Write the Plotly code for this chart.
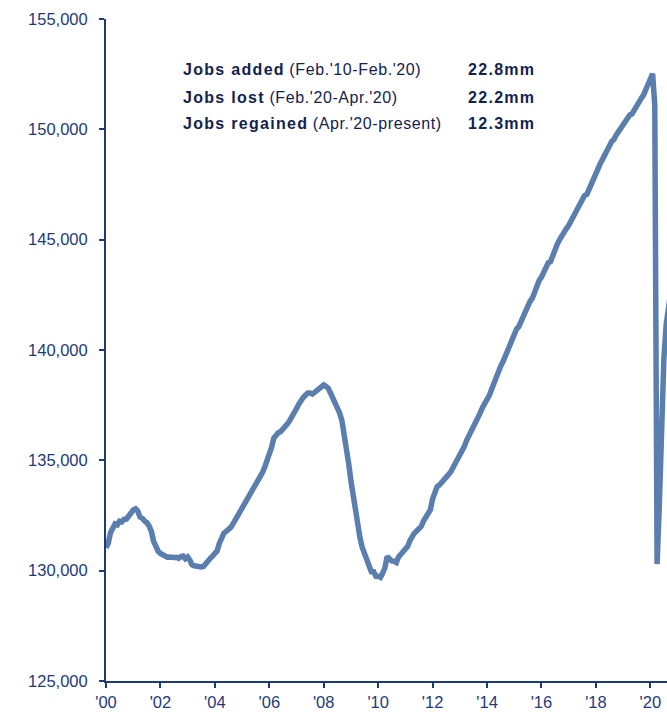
import pandas as pd
import plotly.graph_objects as go

# Total nonfarm payrolls, seasonally adjusted, thousands (monthly, Jan 2000 - Oct 2020)
p2000 = [131040, 131250, 131720, 131980, 132120, 132080, 132240, 132210, 132330, 132340, 132520, 132660]
p2001 = [132750, 132800, 132710, 132430, 132380, 132250, 132180, 132030, 131780, 131330, 131020, 130880]
p2002 = [130780, 130700, 130660, 130610, 130620, 130640, 130600, 130610, 130560, 130640, 130660, 130540]
p2003 = [130620, 130470, 130260, 130220, 130190, 130180, 130170, 130190, 130340, 130470, 130560, 130660]
p2004 = [130800, 130900, 131230, 131480, 131700, 131780, 131850, 131960, 132120, 132300, 132430, 132560]
p2005 = [132750, 132950, 133100, 133320, 133480, 133700, 133900, 134100, 134250, 134450, 134700, 134950]
p2006 = [135250, 135600, 136000, 136150, 136250, 136300, 136400, 136550, 136650, 136800, 136950, 137100]
p2007 = [137350, 137550, 137750, 137850, 137950, 138050, 138050, 138000, 138080, 138150, 138250, 138300]
p2008 = [138420, 138350, 138270, 138050, 137850, 137650, 137420, 137150, 136800, 136250, 135600, 134850]
p2009 = [134050, 133350, 132550, 131850, 131500, 131050, 130750, 130550, 130150, 129950, 129950, 129750]
p2010 = [129750, 129700, 129880, 130120, 130640, 130510, 130440, 130430, 130370, 130620, 130740, 130830]
p2011 = [130900, 131100, 131350, 131600, 131700, 131800, 131900, 132000, 132250, 132400, 132550, 132750]
p2012 = [133250, 133500, 133800, 133880, 133980, 134080, 134200, 134350, 134480, 134650, 134830, 135000]
p2013 = [135200, 135450, 135620, 135900, 136100, 136300, 136450, 136650, 136900, 137150, 137400, 137550]
p2014 = [137750, 137950, 138200, 138500, 138700, 139000, 139250, 139450, 139700, 139950, 140250, 140500]
p2015 = [140700, 140950, 141050, 141300, 141600, 141800, 142050, 142200, 142350, 142650, 142900, 143150]
p2016 = [143300, 143550, 143800, 143950, 144000, 144300, 144600, 144800, 145000, 145200, 145350, 145500]
p2017 = [145650, 145850, 146000, 146200, 146350, 146600, 146800, 147000, 147050, 147300, 147500, 147650]
p2018 = [147950, 148300, 148450, 148650, 148900, 149100, 149250, 149450, 149550, 149750, 149900, 150050]
p2019 = [150250, 150300, 150450, 150650, 150700, 150850, 151000, 151200, 151400, 151550, 151800, 151950]
p2020 = [152250, 152520, 151090, 130300, 133000, 137800, 139600, 141150, 141900, 142600]

payrolls = (p2000 + p2001 + p2002 + p2003 + p2004 + p2005 + p2006 + p2007 + p2008 + p2009
            + p2010 + p2011 + p2012 + p2013 + p2014 + p2015 + p2016 + p2017 + p2018 + p2019 + p2020)
months = pd.date_range("2000-01-01", periods=len(payrolls), freq="MS")

tick_years = list(range(2000, 2021, 2))
tick_dates = [f"{y}-01-01" for y in tick_years]
tick_labels = [f"'{str(y)[2:]}" for y in tick_years]
y_ticks = list(range(125000, 155001, 5000))

stat_names = ["Jobs added", "Jobs lost", "Jobs regained"]
stat_periods = ["(Feb.'10-Feb.'20)", "(Feb.'20-Apr.'20)", "(Apr.'20-present)"]
stat_values = ["22.8mm", "22.2mm", "12.3mm"]

NAVY = "#1d3b7b"
TEXT = "#12224f"
LINE = "#5a7eae"
FONT = "Liberation Sans, Arial, sans-serif"

fig = go.Figure()
fig.add_trace(go.Scatter(
    x=months, y=payrolls, mode="lines",
    line=dict(color=LINE, width=5.5, shape="linear"),
    hoverinfo="skip", showlegend=False,
))

W, H = 667, 712
L, R, T, B = 106, 0, 19, 31
plot_w, plot_h = W - L - R, H - T - B

def px_to_paper(px, py):
    return (px - L) / plot_w, (H - B - py) / plot_h

SPACED = "<span style='letter-spacing:1.3px'><b>{}</b></span>"
PLAIN = "<span style='letter-spacing:0.6px'>{}</span>"

row_y = [70, 97, 124]
for name, period, value, py in zip(stat_names, stat_periods, stat_values, row_y):
    xl, yl = px_to_paper(181, py)
    xv, _ = px_to_paper(466, py)
    fig.add_annotation(x=xl, y=yl, xref="paper", yref="paper",
                       text=SPACED.format(name) + " " + PLAIN.format(period),
                       xanchor="left", yanchor="middle", showarrow=False,
                       font=dict(family=FONT, size=16, color=TEXT))
    fig.add_annotation(x=xv, y=yl, xref="paper", yref="paper",
                       text=SPACED.format(value),
                       xanchor="left", yanchor="middle", showarrow=False,
                       font=dict(family=FONT, size=16, color=TEXT))

fig.update_layout(
    width=W, height=H,
    margin=dict(l=L, r=R, t=T, b=B, pad=0),
    paper_bgcolor="white", plot_bgcolor="white",
    font=dict(family=FONT, color=NAVY),
)
fig.update_xaxes(
    type="date", range=["2000-01-01", "2020-08-12"],
    tickmode="array", tickvals=tick_dates, ticktext=tick_labels,
    showline=True, linecolor=NAVY, linewidth=2,
    ticks="outside", ticklen=5, tickwidth=2, tickcolor=NAVY,
    showgrid=False, zeroline=False,
    tickfont=dict(family=FONT, size=16.5, color=NAVY),
)
fig.update_yaxes(
    range=[125000, 155000], tickmode="array", tickvals=y_ticks,
    tickformat=",d",
    showline=True, linecolor=NAVY, linewidth=2,
    ticks="outside", ticklen=5, tickwidth=2, tickcolor=NAVY,
    showgrid=False, zeroline=False,
    ticklabelstandoff=8,
    tickfont=dict(family=FONT, size=16.5, color=NAVY),
)

fig.write_html("out.html")
